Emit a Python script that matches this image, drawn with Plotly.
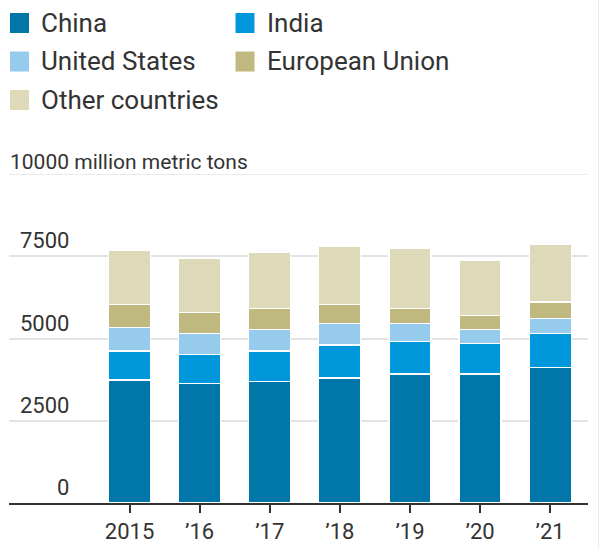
import plotly.graph_objects as go

# ---- data ----
years = ["2015", "’16", "’17", "’18", "’19", "’20", "’21"]
series_names = ["China", "India", "United States", "European Union", "Other countries"]
china = [3740, 3630, 3690, 3800, 3920, 3920, 4110]
india = [880, 880, 930, 1000, 1000, 940, 1050]
united_states = [710, 650, 650, 650, 530, 410, 460]
european_union = [700, 640, 650, 590, 470, 430, 490]
other_countries = [1640, 1640, 1690, 1750, 1820, 1680, 1740]
y_ticks = [0, 2500, 5000, 7500]
y_top = 10000
y_title = "10000 million metric tons"

colors = ["#0176a9", "#0098da", "#97cbed", "#bfb97f", "#ddd9b9"]
values = [china, india, united_states, european_union, other_countries]

W, H = 600, 549
ML, MR, MT, MB = 9, 12, 174, 46
PW, PH = W - ML - MR, H - MT - MB
FONT = "Roboto, 'Open Sans', sans-serif"
TXT = "#333333"


def px_x(x):
    return (x - ML) / PW


def px_y(y):
    return (H - MB - y) / PH


fig = go.Figure()
for name, vals, col in zip(series_names, values, colors):
    fig.add_trace(go.Bar(
        x=years, y=vals, name=name,
        marker=dict(color=col, line=dict(color="white", width=1.2)),
        width=0.6, showlegend=False,
    ))

shapes = []
annotations = []

# manual legend
col_sq_x = [10, 235.5]
col_txt_x = [40, 265.5]
row_y = [23, 61.5, 100]
for i, (name, col) in enumerate(zip(series_names, colors)):
    c, r = i % 2, i // 2
    x0 = col_sq_x[c]
    yc = row_y[r]
    shapes.append(dict(type="rect", xref="paper", yref="paper",
                       x0=px_x(x0), x1=px_x(x0 + 19),
                       y0=px_y(yc + 10), y1=px_y(yc - 10),
                       fillcolor=col, line=dict(width=0), layer="above"))
    annotations.append(dict(xref="paper", yref="paper", x=px_x(col_txt_x[c]), y=px_y(yc),
                            text=name, showarrow=False, xanchor="left", yanchor="middle",
                            borderpad=0, font=dict(family=FONT, size=26, color=TXT)))

# y tick labels above gridlines
for v in y_ticks:
    annotations.append(dict(xref="paper", yref="y", x=px_x(70), y=v, text=str(v),
                            showarrow=False, xanchor="right", yanchor="bottom", yshift=2,
                            borderpad=0, font=dict(family=FONT, size=22, color=TXT)))
annotations.append(dict(xref="paper", yref="y", x=0, y=y_top, text=y_title,
                        showarrow=False, xanchor="left", yanchor="bottom", yshift=-1,
                        borderpad=0, font=dict(family=FONT, size=21, color=TXT)))

# top gridline and right-edge faint border
shapes.append(dict(type="line", xref="paper", yref="y", x0=0, x1=1, y0=y_top, y1=y_top,
                   line=dict(color="#e3e3e3", width=1.5), layer="below"))
shapes.append(dict(type="line", xref="paper", yref="paper",
                   x0=px_x(598.5), x1=px_x(598.5), y0=px_y(549), y1=px_y(0),
                   line=dict(color="#ececec", width=1)))

fig.update_layout(
    barmode="stack",
    width=W, height=H,
    margin=dict(l=ML, r=MR, t=MT, b=MB, pad=0),
    paper_bgcolor="white", plot_bgcolor="white",
    font=dict(family=FONT, color=TXT),
    showlegend=False,
    shapes=shapes,
    annotations=annotations,
    xaxis=dict(
        type="category", range=[-1.72, 6.54], automargin=False,
        showline=True, linecolor="#333333", linewidth=1.5,
        ticks="outside", ticklen=8, tickwidth=1.5, tickcolor="#333333",
        tickfont=dict(family=FONT, size=22, color=TXT), ticklabelstandoff=0,
        showgrid=False, fixedrange=True,
    ),
    yaxis=dict(
        range=[0, y_top], tickvals=[2500, 5000, 7500], automargin=False,
        showticklabels=False, showgrid=True, gridcolor="#e3e3e3", gridwidth=1.5,
        zeroline=False, showline=False, fixedrange=True,
    ),
)

fig.write_html("out.html", config={"displayModeBar": False},
               post_script="document.body.style.margin='0';")
